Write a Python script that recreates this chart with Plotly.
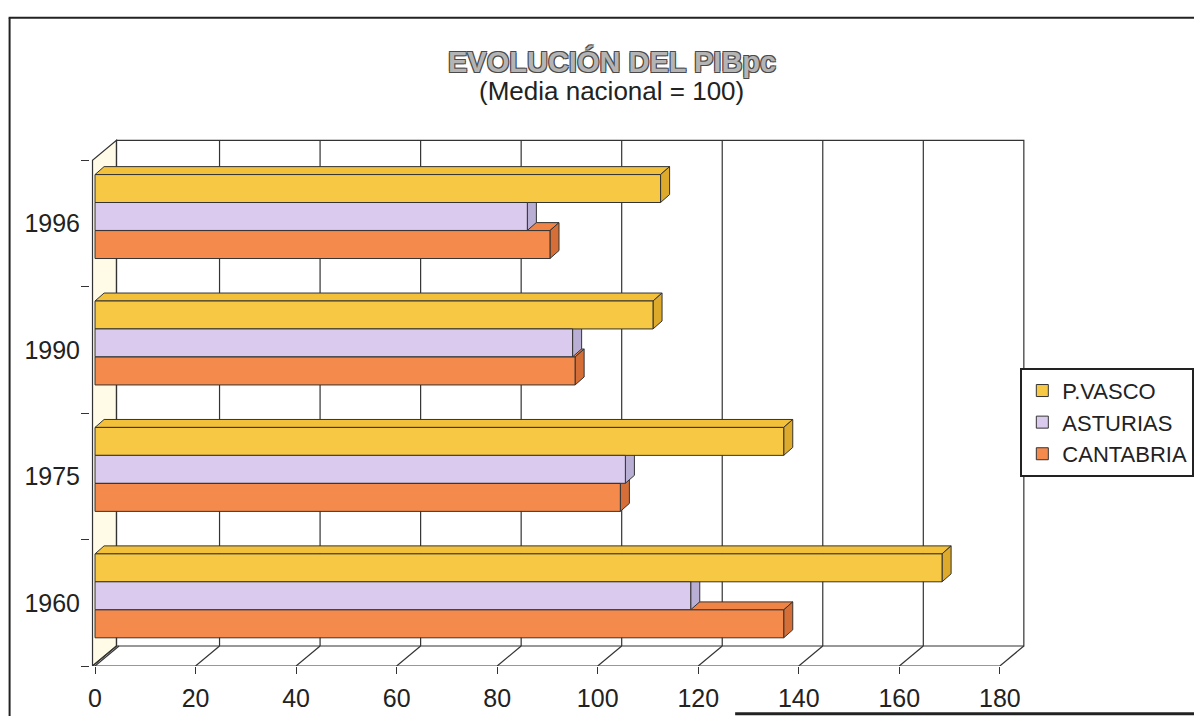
import plotly.graph_objects as go

# ---------------- data ----------------
YEARS = ["1960", "1975", "1990", "1996"]
P_VASCO = [168.5, 137, 111, 112.5]
ASTURIAS = [118.5, 105.5, 95, 86]
CANTABRIA = [137, 104.5, 95.5, 90.5]
X_TICKS = [0, 20, 40, 60, 80, 100, 120, 140, 160, 180]

SERIES = [
    # name, values, front colour, top colour, side colour, bar offset
    ("P.VASCO", P_VASCO, "#F6C843", "#F3C03A", "#DDAA2C", 0.166),
    ("ASTURIAS", ASTURIAS, "#DACBEE", "#D3C3EA", "#B9AED3", -0.055),
    ("CANTABRIA", CANTABRIA, "#F58A4D", "#F08446", "#D66F37", -0.277),
]
BAR_W = 0.221
DXB, DYB = 1.8, 0.063        # bar depth (data units)
DXW, DYW = 4.77, 0.158       # wall depth (data units)
XL = -0.5                    # front-left corner of the chart box
XMAX = 180
LINE = "#333333"

FONT = "Liberation Sans, Arial, sans-serif"

pos = list(range(len(YEARS)))

fig = go.Figure()
for name, vals, col, ctop, cside, off in SERIES:
    fig.add_trace(go.Bar(
        name=name, orientation="h", y=pos, x=vals, base=0,
        offset=off, width=BAR_W,
        marker=dict(color=col, line=dict(color=LINE, width=1)),
    ))

shapes = []
# left wall (cream) and its edges
shapes.append(dict(type="path", xref="x", yref="y", layer="below",
                   path=f"M{XL},-0.5 L{XL},3.5 L{XL+DXW},{3.5+DYW} L{XL+DXW},{-0.5+DYW} Z",
                   fillcolor="#FFFBE6", line=dict(color=LINE, width=1.2)))
# back wall outline
shapes.append(dict(type="rect", xref="x", yref="y", layer="below",
                   x0=XL + DXW, x1=XMAX + DXW, y0=-0.5 + DYW, y1=3.5 + DYW,
                   fillcolor="rgba(0,0,0,0)", line=dict(color=LINE, width=1.2)))
# back wall gridlines
for t in X_TICKS[1:-1]:
    shapes.append(dict(type="line", xref="x", yref="y", layer="below",
                       x0=t + DXW, x1=t + DXW, y0=-0.5 + DYW, y1=3.5 + DYW,
                       line=dict(color=LINE, width=1.2)))
# floor: front line, diagonals
shapes.append(dict(type="line", xref="x", yref="y", layer="below",
                   x0=XL, x1=XMAX, y0=-0.5, y1=-0.5, line=dict(color=LINE, width=1.2)))
shapes.append(dict(type="line", xref="x", yref="y", layer="below",
                   x0=XL, x1=XL + DXW, y0=-0.5, y1=-0.5 + DYW, line=dict(color=LINE, width=1.2)))
for t in X_TICKS:
    shapes.append(dict(type="line", xref="x", yref="y", layer="below",
                       x0=t, x1=t + DXW, y0=-0.5, y1=-0.5 + DYW,
                       line=dict(color=LINE, width=1.2)))

# 3D faces of bars: draw bottom series first
for name, vals, col, ctop, cside, off in reversed(SERIES):
    for i, v in zip(pos, vals):
        y0 = i + off
        y1 = y0 + BAR_W
        shapes.append(dict(type="path", xref="x", yref="y", layer="below",
                           path=f"M0,{y1} L{v},{y1} L{v+DXB},{y1+DYB} L{DXB},{y1+DYB} Z",
                           fillcolor=ctop, line=dict(color=LINE, width=1)))
        shapes.append(dict(type="path", xref="x", yref="y", layer="below",
                           path=f"M{v},{y0} L{v},{y1} L{v+DXB},{y1+DYB} L{v+DXB},{y0+DYB} Z",
                           fillcolor=cside, line=dict(color=LINE, width=1)))

# scanned page border
shapes.append(dict(type="line", xref="paper", yref="paper",
                   x0=-0.087, x1=1.3, y0=1.221, y1=1.221, line=dict(color="#222", width=2)))
shapes.append(dict(type="line", xref="paper", yref="paper",
                   x0=-0.086, x1=-0.086, y0=1.221, y1=-0.2, line=dict(color="#222", width=2)))
shapes.append(dict(type="line", xref="paper", yref="paper",
                   x0=0.69, x1=1.3, y0=-0.09, y1=-0.09, line=dict(color="#222", width=3)))

fig.update_layout(
    width=1202, height=716,
    margin=dict(l=82, r=185, t=127, b=58),
    paper_bgcolor="white", plot_bgcolor="white",
    barmode="overlay",
    font=dict(family=FONT, color="#222222", size=24),
    shapes=shapes,
    showlegend=True,
    legend=dict(x=0.995, y=0.5617, xanchor="left", yanchor="top",
                bgcolor="white", bordercolor="#222222", borderwidth=2,
                font=dict(size=22, color="#222222"),
                itemwidth=30, tracegroupgap=0),
    xaxis=dict(range=[-1, 185], tickvals=X_TICKS, ticks="outside", ticklen=7,
               tickcolor=LINE, tickwidth=1.2, showgrid=False, zeroline=False,
               showline=False, ticklabelstandoff=3, automargin=False,
               tickfont=dict(size=25, color="#222222")),
    yaxis=dict(range=[-0.5, 3.7], tickvals=pos, ticktext=YEARS, ticks="",
               showgrid=False, zeroline=False, showline=False,
               ticklabelstandoff=9, automargin=False,
               minor=dict(tickvals=[-0.5, 0.5, 1.5, 2.5, 3.5], ticks="outside",
                          ticklen=8, tickcolor=LINE, tickwidth=1.2, showgrid=False),
               tickfont=dict(size=25, color="#222222")),
    annotations=[
        dict(text="<b>EVOLUCIÓN DEL PIBpc</b>", xref="paper", yref="paper",
             x=0.558, y=1.1375, xanchor="center", yanchor="middle", showarrow=False,
             font=dict(size=29, color="#B4B4B4", family=FONT,
                       shadow="-1px -1px 0 #4a4a4a, 1px -1px 0 #4a4a4a, -1px 1px 0 #4a4a4a, 1px 1px 0 #4a4a4a")),
        dict(text="(Media nacional = 100)", xref="paper", yref="paper",
             x=0.558, y=1.083, xanchor="center", yanchor="middle", showarrow=False,
             font=dict(size=26, color="#222222", family=FONT)),
    ],
)

fig.write_html("out.html")
